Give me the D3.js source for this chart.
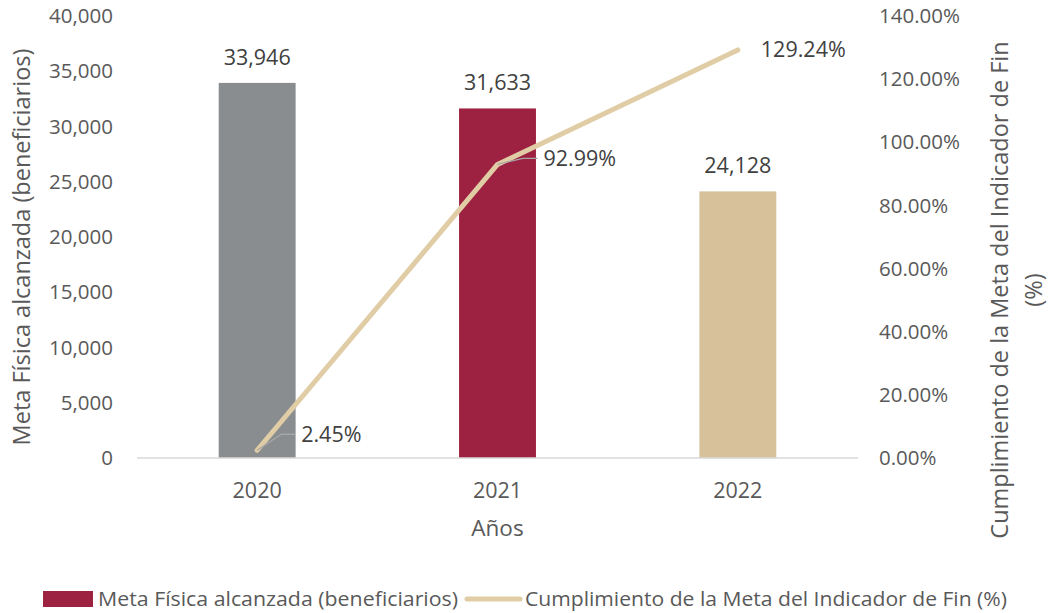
<!DOCTYPE html>
<html>
<head>
<meta charset="utf-8">
<script src="https://cdn.jsdelivr.net/npm/d3@7"></script>
<style>
  body { margin: 0; background: #fff; }
  svg { font-family: "Open Sans", sans-serif; }
</style>
</head>
<body>
<svg width="1049" height="613"></svg>
<script>
// data
var years = ["2020", "2021", "2022"];
var beneficiarios = [33946, 31633, 24128];
var cumplimiento = [2.45, 92.99, 129.24];
var leftTicks = [0, 5000, 10000, 15000, 20000, 25000, 30000, 35000, 40000];
var rightTicks = [0, 20, 40, 60, 80, 100, 120, 140];
var barColors = ["#8a8d90", "#9d2140", "#d6c19b"];
var lineColor = "#e0cda6";

var margin = {top: 16, right: 191, bottom: 155, left: 137};

var svg = d3.select("svg");
var width = +svg.attr("width") - margin.left - margin.right;
var height = +svg.attr("height") - margin.top - margin.bottom;

var g = svg.append("g")
    .attr("transform", "translate(" + margin.left + "," + margin.top + ")");

var x = d3.scaleBand()
    .domain(years)
    .range([0, width])
    .padding(0);

var y = d3.scaleLinear()
    .domain([0, 40000])
    .range([height, 0]);

var y2 = d3.scaleLinear()
    .domain([0, 140])
    .range([height, 0]);

var barW = x.bandwidth() * 0.32;
var cx = function(d) { return x(d) + x.bandwidth() / 2; };

// bars
g.selectAll(".bar")
    .data(years)
  .enter().append("rect")
    .attr("class", "bar")
    .attr("x", function(d) { return cx(d) - barW / 2; })
    .attr("y", function(d, i) { return y(beneficiarios[i]); })
    .attr("width", barW)
    .attr("height", function(d, i) { return height - y(beneficiarios[i]); })
    .attr("fill", function(d, i) { return barColors[i]; });

// bar labels
g.selectAll(".barlabel")
    .data(years)
  .enter().append("text")
    .attr("x", cx)
    .attr("y", function(d, i) { return y(beneficiarios[i]) - 18; })
    .attr("text-anchor", "middle")
    .attr("font-size", 21.5)
    .attr("fill", "#404040")
    .text(function(d, i) { return d3.format(",")(beneficiarios[i]); });

// x axis line
g.append("line")
    .attr("x1", 0).attr("x2", width)
    .attr("y1", height).attr("y2", height)
    .attr("stroke", "#d9d9d9")
    .attr("stroke-width", 1.5);

// x labels
g.selectAll(".xlab")
    .data(years)
  .enter().append("text")
    .attr("x", cx)
    .attr("y", height + 40)
    .attr("text-anchor", "middle")
    .attr("font-size", 21.5)
    .attr("fill", "#595959")
    .text(function(d) { return d; });

g.append("text")
    .attr("x", width / 2)
    .attr("y", height + 78)
    .attr("text-anchor", "middle")
    .attr("font-size", 22.5)
    .attr("fill", "#595959")
    .text("Años");

// left ticks
g.selectAll(".ly")
    .data(leftTicks)
  .enter().append("text")
    .attr("x", -24)
    .attr("y", function(d) { return y(d); })
    .attr("dy", "0.35em")
    .attr("text-anchor", "end")
    .attr("font-size", 20.5)
    .attr("fill", "#595959")
    .text(function(d) { return d3.format(",")(d); });

// right ticks
g.selectAll(".ry")
    .data(rightTicks)
  .enter().append("text")
    .attr("x", width + 21)
    .attr("y", function(d) { return y2(d); })
    .attr("dy", "0.35em")
    .attr("text-anchor", "start")
    .attr("font-size", 20.5)
    .attr("fill", "#595959")
    .text(function(d) { return d.toFixed(2) + "%"; });

// axis titles
svg.append("text")
    .attr("transform", "translate(30,247) rotate(-90)")
    .attr("text-anchor", "middle")
    .attr("font-size", 23.5)
    .attr("fill", "#595959")
    .text("Meta Física alcanzada (beneficiarios)");

var rt = svg.append("text")
    .attr("transform", "translate(1008,290) rotate(-90)")
    .attr("text-anchor", "middle")
    .attr("font-size", 23.5)
    .attr("fill", "#595959");
rt.append("tspan").attr("x", 0).attr("dy", 0).text("Cumplimiento de la Meta del Indicador de Fin");
rt.append("tspan").attr("x", 0).attr("dy", 34).text("(%)");

// line
var line = d3.line()
    .x(function(d, i) { return cx(years[i]); })
    .y(function(d) { return y2(d); });

g.append("path")
    .datum(cumplimiento)
    .attr("d", line)
    .attr("fill", "none")
    .attr("stroke", lineColor)
    .attr("stroke-width", 5)
    .attr("stroke-linecap", "round")
    .attr("stroke-linejoin", "round");

// line labels with leader lines
var lblOff = [[44, -16], [46, -6], [23, 0]];
cumplimiento.forEach(function(v, i) {
  var px = cx(years[i]), py = y2(v);
  var o = lblOff[i];
  if (i < 2) {
    g.append("path")
      .attr("d", "M" + px + "," + py + "L" + (px + o[0] * 0.55) + "," + (py + o[1]) + "L" + (px + o[0] - 6) + "," + (py + o[1]))
      .attr("fill", "none")
      .attr("stroke", "#a6a6a6")
      .attr("stroke-width", 1.3);
  }
  g.append("text")
    .attr("x", px + o[0])
    .attr("y", py + o[1])
    .attr("dy", "0.35em")
    .attr("font-size", 21.5)
    .attr("fill", "#404040")
    .text(v.toFixed(2) + "%");
});

// legend
var lg = svg.append("g").attr("transform", "translate(0,599)");
lg.append("rect")
    .attr("x", 43).attr("y", -8)
    .attr("width", 50).attr("height", 16)
    .attr("fill", barColors[1]);
lg.append("text")
    .attr("x", 98).attr("y", 0).attr("dy", "0.35em")
    .attr("font-size", 20)
    .attr("fill", "#595959")
    .attr("textLength", 360)
    .attr("lengthAdjust", "spacingAndGlyphs")
    .text("Meta Física alcanzada (beneficiarios)");
lg.append("line")
    .attr("x1", 467).attr("x2", 520)
    .attr("y1", 0).attr("y2", 0)
    .attr("stroke", lineColor)
    .attr("stroke-width", 5)
    .attr("stroke-linecap", "round");
lg.append("text")
    .attr("x", 525).attr("y", 0).attr("dy", "0.35em")
    .attr("font-size", 20)
    .attr("fill", "#595959")
    .attr("textLength", 482)
    .attr("lengthAdjust", "spacingAndGlyphs")
    .text("Cumplimiento de la Meta del Indicador de Fin (%)");
</script>
</body>
</html>
